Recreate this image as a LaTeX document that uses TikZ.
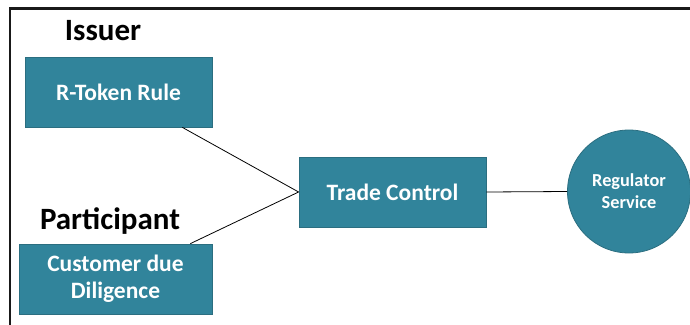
\documentclass[tikz,border=0pt]{standalone}
\usepackage{fontspec}
\setmainfont{Carlito}
\usetikzlibrary{calc}
\definecolor{teal}{HTML}{31849B}
\definecolor{tealedge}{HTML}{2B6E80}
\tikzset{
  box/.style={draw=tealedge, line width=0.8pt, fill=teal, text=white, font=\bfseries\fontsize{23.5}{27}\selectfont, align=center, inner sep=0pt},
  role/.style={font=\bfseries\fontsize{31}{34}\selectfont, inner sep=0pt},
  link/.style={draw=black, line width=0.8pt}
}
\begin{document}
\begin{tikzpicture}[x=1pt,y=-1pt]
\useasboundingbox (0,0) rectangle (690,324);
\draw[line width=2.6pt, black!90] (10,326) -- (10,8.5) -- (692,8.5);
\node[role] (issuer) at (103,30.5) {Issuer};
\node[role] (part) at (110,221) {Participant};
\node[box, minimum width=187pt, minimum height=70pt] (rt) at (118.5,92) {R-Token Rule};
\node[box, minimum width=193pt, minimum height=70pt] (cdd) at (115.5,279) {Customer due\\Diligence};
\node[box, minimum width=187pt, minimum height=70pt] (tc) at (392.5,192) {Trade Control};
\node[draw=tealedge, line width=0.8pt, fill=teal, text=white, circle, minimum size=123pt, inner sep=0pt, align=center, font=\bfseries\fontsize{18.3}{22}\selectfont] (rs) at (629,191.5) {Regulator\\Service};
\draw[link] ($(rt.south east)+(-30,0)$) -- (tc.west);
\draw[link] ($(cdd.north east)+(-22,0)$) -- (tc.west);
\draw[link] (tc.east) -- (rs.west);
\end{tikzpicture}
\end{document}
